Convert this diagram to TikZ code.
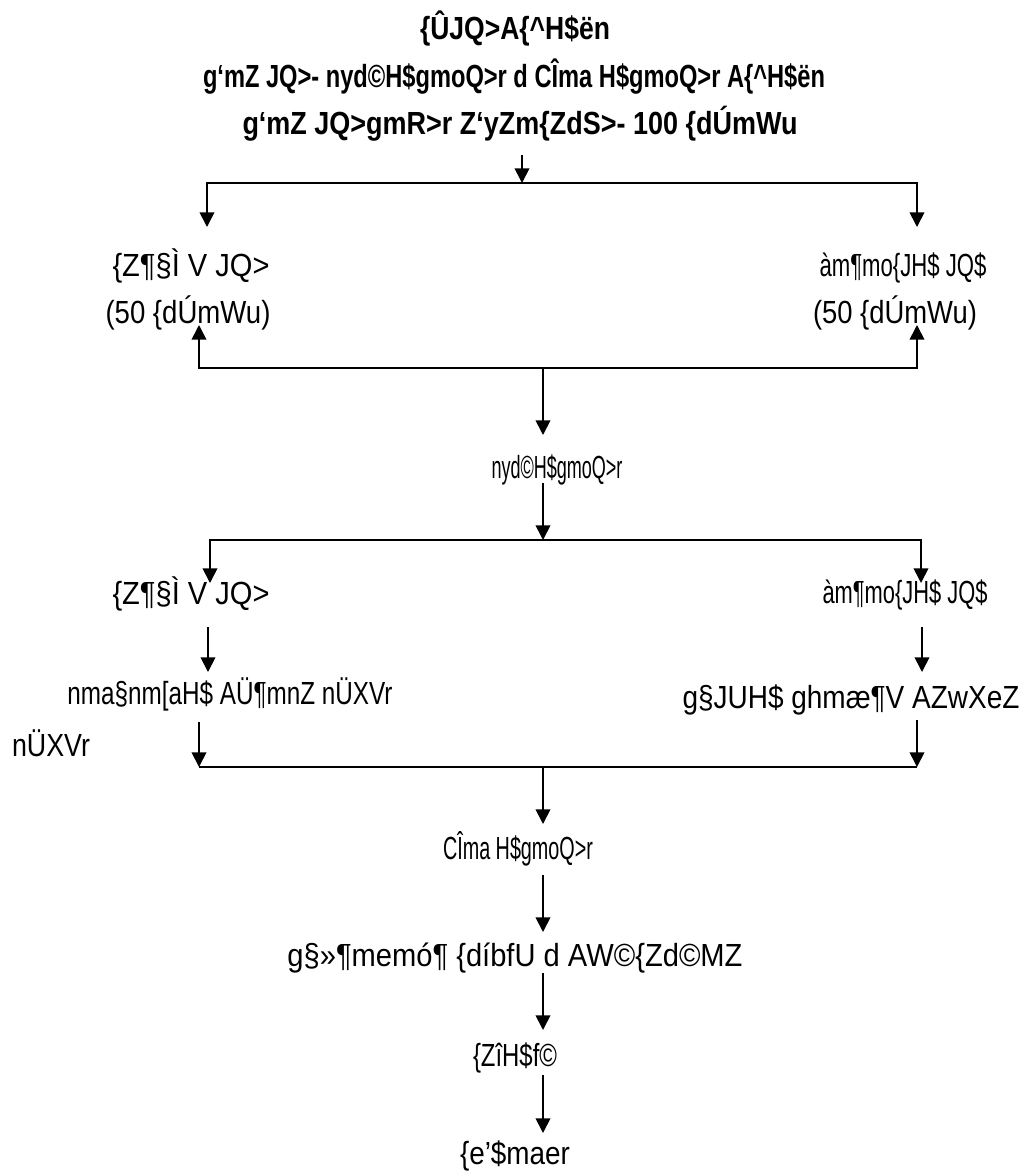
\documentclass[tikz,border=0pt]{standalone}
\usepackage{fontspec}
\setmainfont{Liberation Sans}
\usepackage{graphicx}
\usetikzlibrary{arrows.meta}
\newlength\pxu
\setlength\pxu{0.75pt}
\newcommand{\fitw}[2]{\resizebox{#1\pxu}{\height}{#2}}
\begin{document}
\begin{tikzpicture}[x=0.75pt,y=-0.75pt,
  txt/.style={inner sep=0pt,anchor=base,font=\fontsize{24pt}{28pt}\selectfont},
  ttl/.style={txt,font=\fontsize{24pt}{28pt}\selectfont\bfseries},
  ln/.style={line width=1.3pt},
  arr/.style={ln,-{Triangle[width=11pt,length=11pt]}}]
\useasboundingbox (0,0) rectangle (1026,1171);
% titles
\node[ttl] (T1) at (515,39) {\fitw{190}{\{ÛJQ>A\{\textasciicircum H\$ën}};
\node[ttl] (T2) at (514,87) {\fitw{622}{g‘mZ JQ>- nyd©H\$gmoQ>r d CÎma H\$gmoQ>r A\{\textasciicircum H\$ën}};
\node[ttl] (T3) at (520,134) {\fitw{555}{g‘mZ JQ>gmR>r Z‘yZm\{ZdS>- 100 \{dÚmWu}};
% first split
\node[txt] (L1) at (191,276) {\fitw{157}{\{Z¶§Ì V JQ>}};
\node[txt] (L1b) at (188,323) {\fitw{165}{(50 \{dÚmWu)}};
\node[txt] (R1) at (903,276) {\fitw{167}{àm¶mo\{JH\$ JQ\$}};
\node[txt] (R1b) at (895,323) {\fitw{164}{(50 \{dÚmWu)}};
\node[txt] (C1) at (557,478) {\fitw{131}{nyd©H\$gmoQ>r}};
% second split
\node[txt] (L2) at (191,604) {\fitw{157}{\{Z¶§Ì V JQ>}};
\node[txt] (R2) at (905,603) {\fitw{165}{àm¶mo\{JH\$ JQ\$}};
\node[txt] (L3) at (230,704) {\fitw{325}{nma§nm[aH\$ AÜ¶mnZ nÜXVr}};
\node[txt] (L3b) at (51,756) {\fitw{78}{nÜXVr}};
\node[txt] (R3) at (851,708) {\fitw{337}{g§JUH\$ ghmæ¶V AZwXeZ}};
% bottom chain
\node[txt] (C2) at (518,859) {\fitw{150}{CÎma H\$gmoQ>r}};
\node[txt] (C3) at (515,966) {\fitw{455}{g§»¶memó¶ \{díbfU d AW©\{Zd©MZ}};
\node[txt] (C4) at (515,1066) {\fitw{84}{\{ZîH\$f©}};
\node[txt] (C5) at (515,1164) {\fitw{110}{\{e’\$maer}};
% coordinates
\coordinate (s0) at (522,155);
\coordinate (j0) at (522,183);
\coordinate (l1in) at (207,227);
\coordinate (r1in) at (917,227);
\coordinate (j1) at (543,368);
\coordinate (l1out) at (199,325);
\coordinate (r1out) at (917,325);
\coordinate (c1in) at (543,435);
\coordinate (c1out) at (543,483);
\coordinate (j2) at (543,540);
\coordinate (l2in) at (210,583);
\coordinate (r2in) at (921,583);
\coordinate (l2out) at (208,627);
\coordinate (l3in) at (208,672);
\coordinate (r2out) at (922,627);
\coordinate (r3in) at (922,672);
\coordinate (l3out) at (199,722);
\coordinate (j3l) at (199,767);
\coordinate (r3out) at (917,720);
\coordinate (j3r) at (917,767);
\coordinate (j3) at (543,767);
\coordinate (c2in) at (543,824);
\coordinate (c2out) at (543,875);
\coordinate (c3in) at (543,932);
\coordinate (c3out) at (543,973);
\coordinate (c4in) at (543,1030);
\coordinate (c4out) at (543,1075);
\coordinate (c5in) at (543,1133);
% connectors
\draw[arr] (s0) -- (j0);
\draw[arr] (j0) -| (l1in);
\draw[arr] (j0) -| (r1in);
\draw[arr] (j1) -| (l1out);
\draw[arr] (j1) -| (r1out);
\draw[arr] (j1) -- (c1in);
\draw[arr] (c1out) -- (j2);
\draw[arr] (j2) -| (l2in);
\draw[arr] (j2) -| (r2in);
\draw[arr] (l2out) -- (l3in);
\draw[arr] (r2out) -- (r3in);
\draw[arr] (l3out) -- (j3l);
\draw[arr] (r3out) -- (j3r);
\draw[ln] (j3l) -- (j3r);
\draw[arr] (j3) -- (c2in);
\draw[arr] (c2out) -- (c3in);
\draw[arr] (c3out) -- (c4in);
\draw[arr] (c4out) -- (c5in);
\end{tikzpicture}
\end{document}
